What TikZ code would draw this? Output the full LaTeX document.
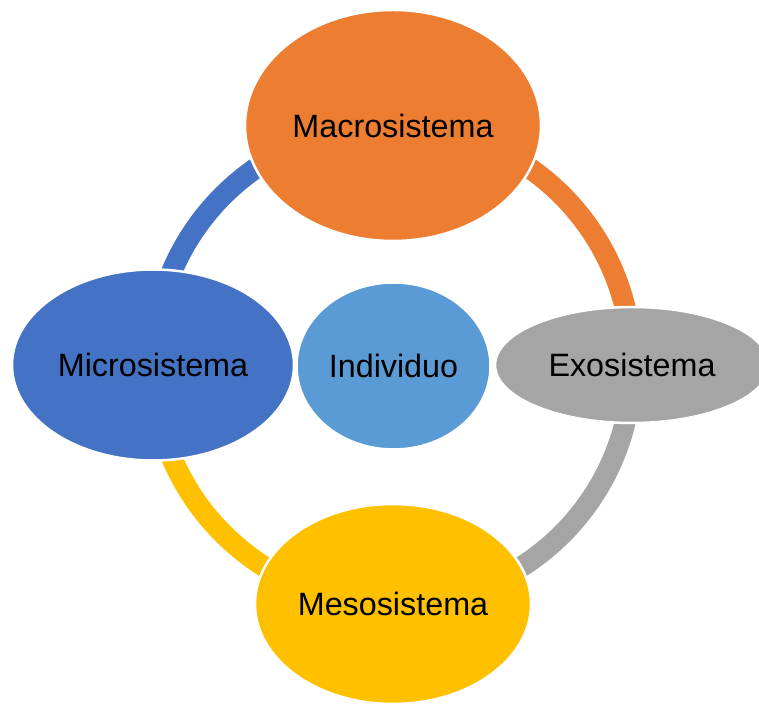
\documentclass[tikz,border=0pt]{standalone}
\usepackage{fontspec}
\setmainfont{Liberation Sans}
\usetikzlibrary{shapes.geometric}
\definecolor{cOrange}{HTML}{ED7D31}
\definecolor{cGray}{HTML}{A5A5A5}
\definecolor{cYellow}{HTML}{FFC000}
\definecolor{cBlue}{HTML}{4472C4}
\definecolor{cLight}{HTML}{5B9BD5}
\tikzset{
  blob/.style={ellipse, draw=white, line width=2.5pt, inner sep=0pt,
    font=\fontsize{32.3}{37}\selectfont, text=black},
  ring/.style={line width=21pt, line cap=butt}
}
\begin{document}
\begin{tikzpicture}[x=1pt,y=1pt]
\useasboundingbox (0,0) rectangle (759,704);
\clip (0,0) rectangle (759,704);
% node placeholders (centers) for connectors
\coordinate (cmacro) at (393,578.5);
\coordinate (cexo) at (632,339);
\coordinate (cmeso) at (393,100);
\coordinate (cmicro) at (153,339);
% ring arcs
\draw[ring, cBlue] (cmicro) to[out=90,in=180] (cmacro);
\draw[ring, cOrange] (cmacro) to[out=0,in=90] (cexo);
\draw[ring, cGray] (cexo) to[out=270,in=0] (cmeso);
\draw[ring, cYellow] (cmeso) to[out=180,in=270] (cmicro);
% ellipses
\node[blob, fill=cOrange, minimum width=296pt, minimum height=231pt] (macro) at (cmacro) {Macrosistema};
\node[blob, fill=cGray, minimum width=274pt, minimum height=116pt] (exo) at (cexo) {Exosistema};
\node[blob, fill=cYellow, minimum width=276pt, minimum height=200pt] (meso) at (cmeso) {Mesosistema};
\node[blob, fill=cBlue, minimum width=282pt, minimum height=191pt] (micro) at (cmicro) {Microsistema};
\node[blob, fill=cLight, minimum width=194pt, minimum height=167pt] (indiv) at (393.5,338) {Individuo};
\end{tikzpicture}
\end{document}
